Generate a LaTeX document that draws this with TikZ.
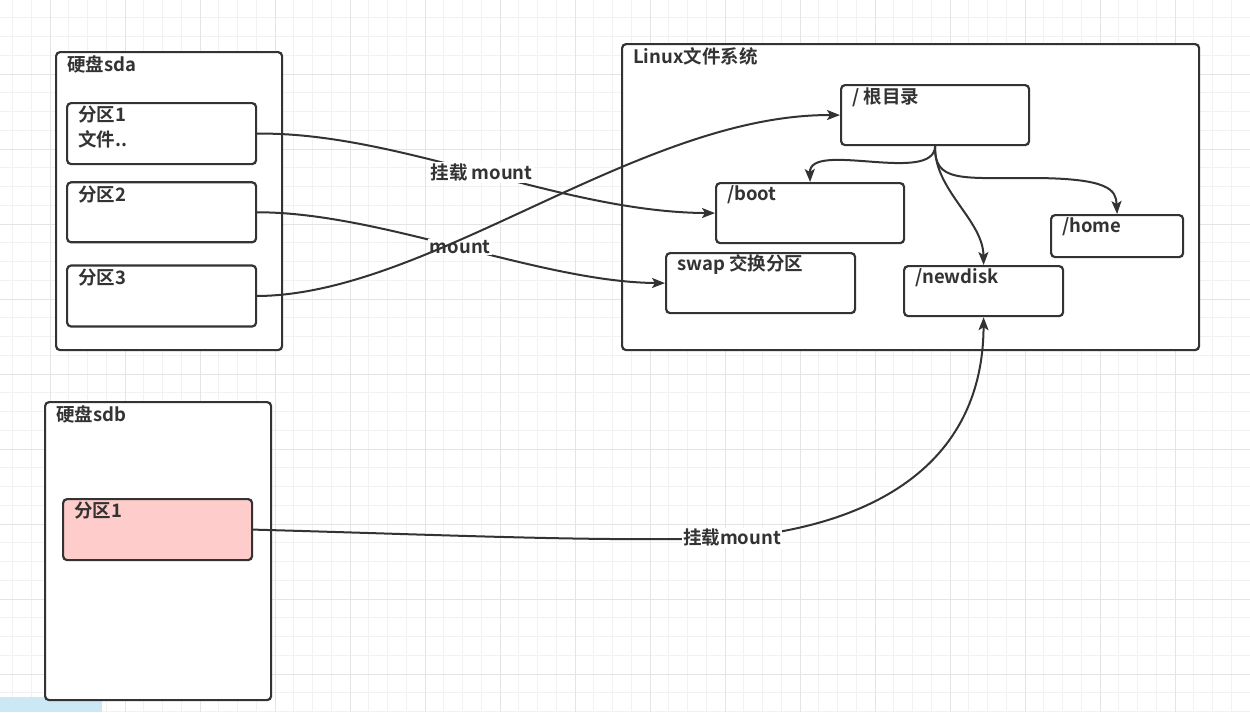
\documentclass[tikz,border=0pt]{standalone}
\usepackage{fontspec}
\setmainfont{Noto Sans CJK SC}[BoldFont={Noto Sans CJK SC Bold}]
\usetikzlibrary{arrows.meta,positioning,calc}
\definecolor{inkgray}{HTML}{333333}
\definecolor{gridminor}{HTML}{F2F2F2}
\definecolor{gridmajor}{HTML}{E4E4E4}
\definecolor{partpink}{HTML}{FFCCCC}
\definecolor{tabblue}{HTML}{CDE8F5}

\begin{document}
\begin{tikzpicture}[
    x=1pt, y=-1pt,
    every node/.style={font=\fontsize{18.5}{22}\selectfont\bfseries, text=inkgray},
    diskbox/.style={draw=inkgray, line width=2.2pt, rounded corners=4pt, fill=white,
                    anchor=north west, inner sep=0pt},
    partbox/.style={diskbox, minimum width=189, minimum height=61},
    ttl/.style={anchor=west, inner sep=0pt},
    mnt/.style={fill=white, inner sep=1.5pt},
    conn/.style={draw=inkgray, line width=2pt},
    arr/.style={conn, -{Stealth[length=13pt, width=10pt, inset=3pt]}}
  ]
  % Background: canvas and grid
  \useasboundingbox (0,0) rectangle (1250,712);
  \fill[white] (0,0) rectangle (1250,712);
  \foreach \i in {0,...,66} \draw[gridminor, line width=1pt] ({12.5+18.75*\i},0) -- ++(0,712);
  \foreach \i in {0,...,37} \draw[gridminor, line width=1pt] (0,{17.75+18.75*\i}) -- ++(1250,0);
  \foreach \i in {0,...,16} \draw[gridmajor, line width=1pt] ({50+75*\i},0) -- ++(0,712);
  \foreach \i in {0,...,8} \draw[gridmajor, line width=1pt] (0,{74+75*\i}) -- ++(1250,0);
  \fill[tabblue] (0,697) rectangle (102,712);

  % Left: disk sda
  \node[diskbox, minimum width=226, minimum height=298] (sda) at (55,51) {};
  \node[partbox] (sda1) at (66,102) {};
  \node[partbox, minimum height=60, below=16pt of sda1.south west, anchor=north west] (sda2) {};
  \node[partbox, below=21pt of sda2.south west, anchor=north west] (sda3) {};

  % Left: disk sdb
  \node[diskbox, minimum width=226, minimum height=298] (sdb) at (44,401) {};
  \node[partbox, fill=partpink] (sdb1) at (62,498) {};

  % Right: Linux file system
  \node[diskbox, minimum width=577, minimum height=306] (fs) at (621,43) {};
  \node[diskbox, minimum width=188, minimum height=60] (root) at (840,84) {};
  \node[diskbox, minimum width=188, minimum height=60] (boot) at (715,182) {};
  \node[diskbox, minimum width=189, minimum height=60] (swap) at (665,252) {};
  \node[diskbox, minimum width=159, minimum height=50] (newdisk) at (903,265) {};
  \node[diskbox, minimum width=132, minimum height=42] (home) at (1050,214) {};

  % Box titles
  \foreach \b/\t in {sda/硬盘sda, sda1/分区1, sda2/分区2, sda3/分区3, sdb/硬盘sdb, sdb1/分区1,
                     fs/Linux文件系统, root/{/ 根目录}, boot/{/boot}, swap/swap 交换分区,
                     newdisk/{/newdisk}, home/{/home}}
    \node[ttl] (\b-t) at ($(\b.north west)+(12,13)$) {\t};
  \node[ttl] (sda1-f) at ($(sda1.north west)+(12,37)$) {文件..};

  % Mount connectors
  \draw[arr] (sda1.east) .. controls (400,132) and (560,212) .. (boot.west)
    node[mnt, pos=0.5] (mnt1) {挂载 mount};
  \draw[arr] (sda2.east) .. controls (380,212) and (540,282) .. (swap.west)
    node[mnt, pos=0.5] (mnt2) {mount};
  \draw[arr] (sda3.east) .. controls (430,295) and (640,114) .. (root.west);
  \draw[arr] (sdb1.east) .. controls (450,535) and (600,542) .. (732,538)
    node[mnt] (mnt4) {挂载mount}
    .. controls (880,525) and (983,460) .. (newdisk.south);

  % Directory tree
  \draw[arr] (root.south) .. controls (934,185) and (809,140) .. (boot.north);
  \draw[arr] (root.south) .. controls (934,190) and (983,220) .. (newdisk.north);
  \draw[arr] (root.south) .. controls (934,182) and (960,178) .. (1030,178)
    .. controls (1110,178) and (1116,190) .. (home.north);
\end{tikzpicture}
\end{document}
